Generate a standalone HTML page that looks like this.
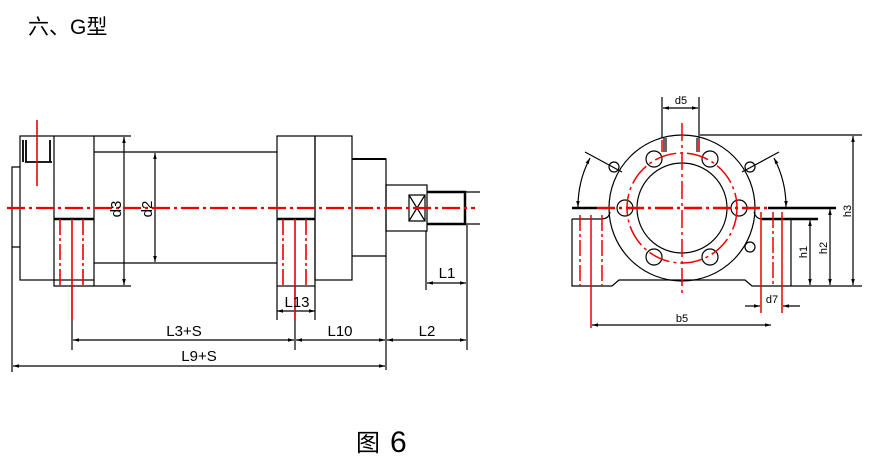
<!DOCTYPE html>
<html><head><meta charset="utf-8"><style>
html,body{margin:0;padding:0;background:#fff;}
svg{display:block;}
text{font-family:"Liberation Sans","Noto Sans CJK SC",sans-serif;fill:#000;}
</style></head><body>
<svg width="870" height="469" viewBox="0 0 870 469" xmlns="http://www.w3.org/2000/svg">
<defs>
<marker id="a" viewBox="0 0 10 10" refX="10" refY="5" markerWidth="7" markerHeight="5" orient="auto-start-reverse"><path d="M0,2 L10,5 L0,8 z" fill="#000"/></marker>
</defs>
<text x="28" y="34" font-size="21">六、G型</text>
<text x="356" y="451" font-size="24">图</text>
<text x="390" y="452" font-size="30">6</text>

<g stroke="#000" stroke-width="1.2" fill="none">
<path d="M20,167 H12 V247 H20"/>
<rect x="20" y="136" width="74" height="144"/>
<path d="M94,136 H131 M54,136 V286 H131 M94,280 V286"/>
<path d="M23,140 V162 M26,140 V162 M50,140 V162 M25,162 H52" stroke-width="1.8"/>
<path d="M54,219 H94" stroke-width="2.5"/>
<path d="M94,152 H277 M94,263 H277"/>
<rect x="277" y="136" width="38" height="150"/>
<path d="M277,219 H315" stroke-width="2.5"/>
<rect x="315" y="136" width="37" height="144"/>
<path d="M352,159 H386 V256 H352"/>
<path d="M352,159 H386" stroke-width="2"/>
<rect x="386" y="185" width="41" height="46"/>
<path d="M427,192 H465 V224 H427" stroke-width="2.5"/>
<path d="M465,192 H480 M465,224 H480"/>
<path d="M409,195 H425 V221 H409 z M409,195 L425,221 M425,195 L409,221"/>
<path d="M124,137 V285" marker-start="url(#a)" marker-end="url(#a)"/>
<path d="M155,153 V262" marker-start="url(#a)" marker-end="url(#a)"/>
<path d="M277,286 V320 M315,286 V320"/>
<path d="M277,311 H315" marker-start="url(#a)" marker-end="url(#a)"/>
<path d="M426,231 V290 M467,225 V350"/>
<path d="M427,283 H466" marker-start="url(#a)" marker-end="url(#a)"/>
<path d="M72,286 V350 M295,286 V350 M386,256 V370 M12,247 V372"/>
<path d="M73,340 H294" marker-start="url(#a)" marker-end="url(#a)"/>
<path d="M296,340 H385" marker-start="url(#a)" marker-end="url(#a)"/>
<path d="M387,340 H466" marker-start="url(#a)" marker-end="url(#a)"/>
<path d="M13,366 H385" marker-start="url(#a)" marker-end="url(#a)"/>
</g>
<g stroke="#e00" stroke-width="1.6" fill="none">
<path d="M7,208 H475" stroke-dasharray="18,4,3,4" stroke-width="2.2"/>
<path d="M37,120 V186"/>
<path d="M60,219 V286 M83,219 V286 M283,219 V286 M306,219 V286" stroke-dasharray="16,3,3,3"/>
<path d="M72,219 V320 M295,219 V320"/>
</g>
<g font-size="15">
<text x="297" y="307" text-anchor="middle">L13</text>
<text x="447" y="278" text-anchor="middle">L1</text>
<text x="184" y="336" text-anchor="middle">L3+S</text>
<text x="340" y="336" text-anchor="middle">L10</text>
<text x="427" y="336" text-anchor="middle">L2</text>
<text x="199" y="361" text-anchor="middle">L9+S</text>
<text transform="translate(121,209) rotate(-90)" text-anchor="middle">d3</text>
<text transform="translate(152,209) rotate(-90)" text-anchor="middle">d2</text>
</g>

<g stroke="#000" stroke-width="1.2" fill="none">
<circle cx="682" cy="208" r="73"/>
<circle cx="682" cy="208" r="45"/>
<path d="M572,208 H597 M768,208 H836" stroke-width="2.5"/>
<path d="M572,219 H601 Q609,219 610,212 M572,219 V286 H612 L619,280 H745 L752,286 H838"/>
<path d="M754,212 Q756,219 762,219 H818"/>
<path d="M762,219 H818" stroke-width="2.5"/>
<path d="M791,219 V286"/>
<circle cx="625" cy="208" r="8"/><circle cx="739" cy="208" r="8"/>
<circle cx="654" cy="159" r="8"/><circle cx="710" cy="159" r="8"/>
<circle cx="654" cy="257" r="8"/><circle cx="710" cy="257" r="8"/>
<circle cx="614" cy="167" r="5"/><circle cx="750" cy="167" r="5"/><circle cx="750" cy="247" r="5"/>
<path d="M585,152 L622,172 M779,152 L742,172"/>
<path d="M590,158 A104,104 0 0 0 578,207" marker-start="url(#a)" marker-end="url(#a)"/>
<path d="M774,158 A104,104 0 0 1 786,207" marker-start="url(#a)" marker-end="url(#a)"/>
<path d="M662,97 V138 M699,97 V138 M664,138 V152 M666,138 V152 M697,138 V152 M699,138 V152"/>
<path d="M663,108 H698" marker-start="url(#a)" marker-end="url(#a)"/>
<path d="M700,135 H862 M838,286 H862"/>
<path d="M853,136 V285" marker-start="url(#a)" marker-end="url(#a)"/>
<path d="M830,209 V285" marker-start="url(#a)" marker-end="url(#a)"/>
<path d="M810,220 V285" marker-start="url(#a)" marker-end="url(#a)"/>
<path d="M745,306 H760" marker-end="url(#a)"/>
<path d="M800,306 H783" marker-end="url(#a)"/>
<path d="M592,325 H771" marker-start="url(#a)" marker-end="url(#a)"/>
</g>
<g stroke="#e00" stroke-width="1.5" fill="none">
<path d="M597,208 H768" stroke-width="2.5" stroke-dasharray="18,4,3,4"/>
<path d="M682,123 V293" stroke-dasharray="18,4,3,4"/>
<circle cx="682" cy="208" r="55" stroke-dasharray="22,4,3,4"/>
<path d="M580,215 V286 M602,215 V286 M773,212 V286" stroke-dasharray="16,3,3,3"/>
<path d="M591,215 V328 M761,212 V313 M782,212 V313"/>
<path d="M662,140 V152 M699,140 V152"/>
</g>
<g font-size="11">
<text x="681" y="104" text-anchor="middle">d5</text>
<text x="682" y="322" text-anchor="middle">b5</text>
<text x="772" y="303" text-anchor="middle">d7</text>
<text transform="translate(807,252) rotate(-90)" text-anchor="middle">h1</text>
<text transform="translate(827,248) rotate(-90)" text-anchor="middle">h2</text>
<text transform="translate(851,211) rotate(-90)" text-anchor="middle">h3</text>
</g>
</svg>
</body></html>
